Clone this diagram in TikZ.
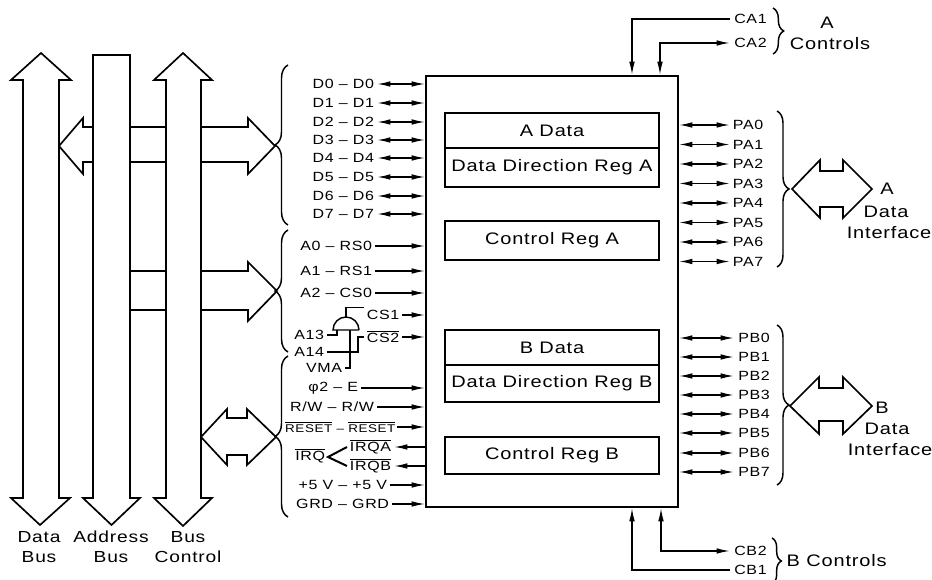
\documentclass[tikz,border=0pt]{standalone}
\usepackage{fontspec}
\setmainfont{Liberation Sans}[FakeStretch=1.2,LetterSpace=5]
\usetikzlibrary{arrows.meta,decorations.pathreplacing}
\begin{document}
\begin{tikzpicture}[x=0.75pt,y=-0.75pt,
  >={Latex[length=10pt,width=4.2pt]},
  wire/.style={line width=1.1pt},
  fat/.style={line width=1.25pt, fill=white, line join=miter, miter limit=20},
  sm/.style={font=\fontsize{10}{11}\selectfont, inner sep=2pt},
  lg/.style={font=\fontsize{12.5}{14}\selectfont, inner sep=1pt},
  buslbl/.style={font=\fontsize{12}{14}\selectfont, inner sep=1pt},
  brc/.style={decorate, decoration={brace, amplitude=#1}, line width=1.1pt}]
\useasboundingbox (0,0) rectangle (932,580);

% ---------- branches (under the buses) ----------
\draw[fat] (59,146) -- (83,118) -- (83,127) -- (248,127) -- (248,118) -- (275,146)
  -- (248,174) -- (248,162) -- (83,162) -- (83,174) -- cycle;
\draw[fat] (120,271) -- (248,271) -- (248,262) -- (277,291) -- (248,321) -- (248,310)
  -- (120,310) -- cycle;
\draw[fat] (201,437) -- (227,409) -- (227,418) -- (247,418) -- (247,409) -- (276,437)
  -- (247,465) -- (247,455) -- (227,455) -- (227,465) -- cycle;

% ---------- buses ----------
\draw[fat] (41,53) -- (71,80) -- (59,80) -- (59,498) -- (70,498) -- (40,525)
  -- (11,498) -- (23,498) -- (23,80) -- (11,80) -- cycle;
\draw[fat] (93,55) -- (130,55) -- (130,498) -- (140,498) -- (111.5,525) -- (83,498)
  -- (93,498) -- cycle;
\draw[fat] (183,53) -- (212,80) -- (201,80) -- (201,498) -- (212,498) -- (183,526)
  -- (154,498) -- (166,498) -- (166,80) -- (154,80) -- cycle;

\node[buslbl] (lb1) at (39,537) {Data};
\node[buslbl] (lb2) at (39,557) {Bus};
\node[buslbl] (lb3) at (111,537) {Address};
\node[buslbl] (lb4) at (111,557) {Bus};
\node[buslbl] (lb5) at (188,537) {Bus};
\node[buslbl] (lb6) at (188,557) {Control};

% ---------- left braces ----------
\draw[brc=9.75pt] (288,225) -- (288,65);
\draw[brc=9.75pt] (288,352) -- (288,230);
\draw[brc=9.75pt] (288,517) -- (288,356);

% ---------- chip ----------
\node[draw, line width=1.4pt, minimum width=189pt, minimum height=323.25pt, inner sep=0pt]
  (chip) at (552,291.5) {};

\draw[wire] (445,113) rectangle (659,187);
\draw[wire] (445,148) -- (659,148);
\draw[wire] (445,221) rectangle (659,260);
\draw[wire] (445,330) rectangle (659,402);
\draw[wire] (445,365) -- (659,365);
\draw[wire] (445,437) rectangle (659,474);
\node[lg] (ad) at (552,131) {A Data};
\node[lg] (ddra) at (552,167) {Data Direction Reg A};
\node[lg] (cra) at (552,240) {Control Reg A};
\node[lg] (bd) at (552,348) {B Data};
\node[lg] (ddrb) at (552,383) {Data Direction Reg B};
\node[lg] (crb) at (552,455) {Control Reg B};

% ---------- data pins ----------
\foreach \i/\y in {0/84,1/103,2/122,3/140,4/158,5/177,6/196,7/214}{
  \node[sm, anchor=east] (d\i) at (377,\y) {D\i\ – D\i};
  \draw[wire,<->] (d\i.east) -- (chip.west |- d\i.east);
}

% ---------- address pins ----------
\node[sm, anchor=east] (a0) at (375,246) {A0 – RS0};
\node[sm, anchor=east] (a1) at (375,271) {A1 – RS1};
\node[sm, anchor=east] (a2) at (375,293) {A2 – CS0};
\foreach \n in {a0,a1,a2}{ \draw[wire,->] (\n.east) -- (chip.west |- \n.east); }

\node[sm, anchor=west] (cs1) at (364,315) {CS1};
\node[sm, anchor=west] (cs2) at (364,337) {$\overline{\mbox{CS2}}$};
\draw[wire,->] (cs1.east) -- (chip.west |- cs1.east);
\draw[wire,->] (cs2.east) -- (chip.west |- cs2.east);

% AND gate
\coordinate (gout) at (346,317);
\coordinate (gin1) at (337,330);
\coordinate (gin2) at (350,330);
\draw[wire] (359,330) -- (333,330) arc[start angle=180, end angle=360, radius=13];
\node[sm, anchor=east] (a13) at (327,335) {A13};
\node[sm, anchor=east] (a14) at (327,352) {A14};
\node[sm, anchor=east] (vma) at (345,368) {VMA};
\draw[wire] (gout) |- (cs1.north west);
\draw[wire] (a13.east) -| (gin1);
\draw[wire] (vma.east) -| (gin2);
\draw[wire] (a14.east) -- (358,352) |- (cs2.west);

% ---------- control pins ----------
\node[sm, anchor=east] (phi) at (361,388) {φ2 – E};
\node[sm, anchor=east] (rw) at (377,407) {R/W – R/W};
\node[sm, anchor=east, inner sep=1pt, font=\fontsize{8.4}{10}\selectfont] (rst) at (397,427)
  {$\overline{\mbox{RESET}}$ – $\overline{\mbox{RESET}}$};
\node[sm, anchor=east] (pwr) at (390,485) {+5 V – +5 V};
\node[sm, anchor=east] (grd) at (392,504) {GRD – GRD};
\foreach \n in {phi,rw,rst,pwr,grd}{ \draw[wire,->] (\n.east) -- (chip.west |- \n.east); }

\node[sm, anchor=east] (irq) at (328,456) {$\overline{\mbox{IRQ}}$};
\node[sm, anchor=west] (irqa) at (347,447) {$\overline{\mbox{IRQA}}$};
\node[sm, anchor=west] (irqb) at (347,466) {$\overline{\mbox{IRQB}}$};
\coordinate (irqv) at (328,457);
\draw[line width=1.5pt] (irqa.west) -- (irqv) -- (irqb.west);
\draw[wire,<-] (irqa.east) -- (chip.west |- irqa.east);
\draw[wire,<-] (irqb.east) -- (chip.west |- irqb.east);

% ---------- port A ----------
\foreach \i/\y in {0/125,1/144.5,2/164,3/183.5,4/203,5/222.5,6/242,7/261.5}{
  \node[sm, anchor=west] (pa\i) at (730,\y) {PA\i};
  \draw[wire,<->] (chip.east |- pa\i.west) -- (pa\i.west);
}
\draw[brc=9pt] (777,111) -- (777,267);
\draw[fat] (792,189) -- (820,160) -- (820,171) -- (843,171) -- (843,160) -- (872,189)
  -- (843,218) -- (843,207) -- (820,207) -- (820,218) -- cycle;
\node[lg] (ia1) at (887,189) {A};
\node[lg] (ia2) at (886,212) {Data};
\node[lg] (ia3) at (889,233) {Interface};

% ---------- port B ----------
\foreach \i/\y in {0/338,1/357,2/376,3/395,4/414,5/433,6/453,7/472}{
  \node[sm, anchor=west, inner sep=3pt] (pb\i) at (734,\y) {PB\i};
  \draw[wire,<->] (chip.east |- pb\i.west) -- (pb\i.west);
}
\draw[brc=9pt] (777,325) -- (777,485);
\draw[fat] (790,406) -- (819,377) -- (819,388) -- (843,388) -- (843,377) -- (872,406)
  -- (843,434) -- (843,421) -- (819,421) -- (819,434) -- cycle;
\node[lg] (ib1) at (882,408) {B};
\node[lg] (ib2) at (887,429) {Data};
\node[lg] (ib3) at (890,450) {Interface};

% ---------- A controls ----------
\node[sm, anchor=west, inner sep=3pt] (ca1) at (730,19) {CA1};
\node[sm, anchor=west, inner sep=3pt] (ca2) at (730,43) {CA2};
\draw[wire,->] (ca1.west) -| (chip.north -| 632,0);
\draw[wire,<->] (chip.north -| 660,0) |- (ca2.west);
\draw[brc=8pt] (773,8) -- (773,54);
\node[lg] (actl1) at (827,23) {A};
\node[lg] (actl2) at (830,44) {Controls};

% ---------- B controls ----------
\node[sm, anchor=west, inner sep=3pt] (cb2) at (730,551) {CB2};
\node[sm, anchor=west, inner sep=3pt] (cb1) at (730,570) {CB1};
\draw[wire,->] (cb1.west) -| (chip.south -| 632,0);
\draw[wire,<->] (chip.south -| 661,0) |- (cb2.west);
\draw[brc=7pt] (772,538) -- (772,584);
\node[lg, anchor=west] (bctl) at (785,561) {B Controls};
\end{tikzpicture}
\end{document}
